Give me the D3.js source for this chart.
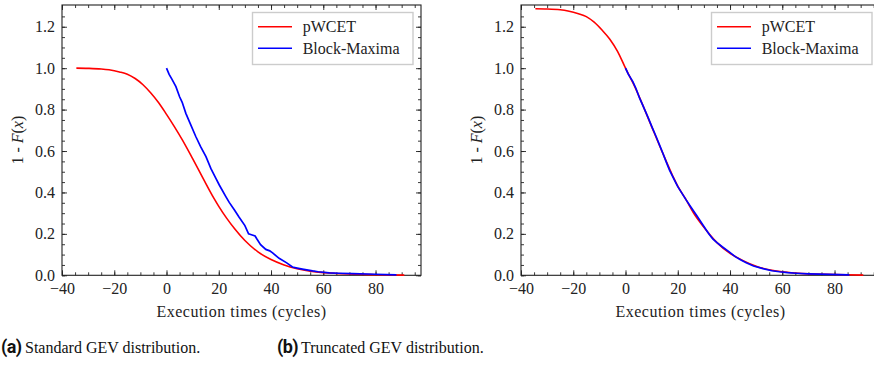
<!DOCTYPE html>
<html>
<head>
<meta charset="utf-8">
<script src="https://cdn.jsdelivr.net/npm/d3@7"></script>
<style>
  body { margin: 0; background: #fff; }
  svg { display: block; font-family: "Liberation Serif", "Times New Roman", serif; }
  svg text { font-family: "Liberation Serif", "Times New Roman", serif; }
  svg text.tag { font-family: Roboto, "Open Sans", sans-serif; font-weight: bold; }
</style>
</head>
<body>
<svg id="chart" width="874" height="371"></svg>
<script>
// values
const xTicks = [-40, -20, 0, 20, 40, 60, 80];
const yTicks = [0, 0.2, 0.4, 0.6, 0.8, 1.0, 1.2];

// (a) standard GEV
const stdRedX = [-34.5, -30, -25, -22, -18, -15, -12, -9, -6, -3, 0, 3, 6, 10, 14, 18, 20, 23, 26, 30, 35, 40, 45, 50, 55, 60, 65, 70, 80, 91];
const stdRedY = [1.000, 0.999, 0.996, 0.992, 0.982, 0.971, 0.950, 0.920, 0.880, 0.833, 0.777, 0.718, 0.655, 0.563, 0.468, 0.375, 0.333, 0.276, 0.226, 0.168, 0.113, 0.076, 0.050, 0.032, 0.020, 0.013, 0.009, 0.006, 0.003, 0.001];
const stdBlueX = [0, 1, 2, 3.6, 5, 6, 7.4, 9, 11.2, 13, 15.1, 17, 18.9, 20.2, 22.7, 24, 26, 27.8, 30, 31.4, 32.5, 33.9, 34.6, 36, 38, 39.5, 40.6, 43.1, 46, 48.2, 50, 52, 55.9, 58, 62.3, 66, 71.2, 80, 88];
const stdBlueY = [1.000, 0.970, 0.948, 0.911, 0.862, 0.835, 0.782, 0.735, 0.670, 0.622, 0.573, 0.515, 0.468, 0.436, 0.380, 0.352, 0.315, 0.280, 0.240, 0.200, 0.196, 0.190, 0.175, 0.148, 0.125, 0.118, 0.108, 0.082, 0.060, 0.040, 0.035, 0.030, 0.021, 0.017, 0.012, 0.010, 0.008, 0.005, 0.002];

// (b) truncated GEV
const truRedX = [-34.5, -30, -25, -22, -18, -15, -12, -9, -6, -3, 0, 3, 6, 10, 14, 18, 20, 23, 26, 30, 35, 40, 45, 50, 55, 60, 65, 70, 80, 91];
const truRedY = [1.287, 1.286, 1.282, 1.276, 1.263, 1.249, 1.222, 1.184, 1.140, 1.080, 1.000, 0.925, 0.840, 0.718, 0.597, 0.482, 0.430, 0.369, 0.302, 0.232, 0.158, 0.106, 0.071, 0.044, 0.027, 0.017, 0.011, 0.007, 0.004, 0.001];
const truBlueX = [0, 1, 2.8, 4, 5.4, 7, 8.5, 10, 11.7, 13, 14.3, 15.5, 16.8, 18.4, 20, 21.5, 23.2, 25, 27.1, 29, 30.9, 32, 33.4, 35, 37, 39.8, 42, 44, 46.2, 49, 52.6, 56, 58.9, 62, 65.3, 70, 78, 85.7];
const truBlueY = [1.000, 0.972, 0.935, 0.902, 0.855, 0.810, 0.766, 0.720, 0.670, 0.630, 0.589, 0.550, 0.509, 0.468, 0.428, 0.398, 0.364, 0.330, 0.291, 0.255, 0.219, 0.198, 0.176, 0.158, 0.138, 0.112, 0.090, 0.075, 0.061, 0.045, 0.032, 0.022, 0.017, 0.013, 0.010, 0.007, 0.004, 0.002];

const seriesNames = ["pWCET", "Block-Maxima"];
const seriesColors = ["#ff0000", "#0000ff"];

const svg = d3.select("#chart");
svg.append("rect").attr("width", 874).attr("height", 371).attr("fill", "#fff");

const pw = 359, yTop = 5, yBottom = 275.3;
const x = d3.scaleLinear().domain([-40, 97.4]).range([0, pw]);
const y = d3.scaleLinear().domain([0, 1.305]).range([yBottom, yTop]);

const xMinor = d3.range(-40, 97, 5);
const yMinor = d3.range(0, 1.30, 0.05);

function styleAxis(g) {
  g.select(".domain").remove();
  g.attr("font-family", null).attr("font-size", null);
  g.selectAll("line").attr("stroke", "#222").attr("stroke-width", 0.9);
  g.selectAll("text")
    .style("font-size", "16px")
    .attr("fill", "#222");
}

function drawPanel(left, redX, redY, blueX, blueY) {
  const g = svg.append("g").attr("transform", `translate(${left},0)`);
  const fmtX = d => d < 0 ? "\u2212" + Math.abs(d) : d;

  // minor ticks
  g.append("g").attr("transform", `translate(0,${yBottom})`)
    .call(d3.axisBottom(x).tickValues(xMinor).tickSize(-3).tickFormat("")).call(styleAxis);
  g.append("g").attr("transform", `translate(0,${yTop})`)
    .call(d3.axisTop(x).tickValues(xMinor).tickSize(-3).tickFormat("")).call(styleAxis);
  g.append("g")
    .call(d3.axisLeft(y).tickValues(yMinor).tickSize(-3).tickFormat("")).call(styleAxis);
  g.append("g").attr("transform", `translate(${pw},0)`)
    .call(d3.axisRight(y).tickValues(yMinor).tickSize(-3).tickFormat("")).call(styleAxis);

  // major ticks
  g.append("g").attr("transform", `translate(0,${yBottom})`)
    .call(d3.axisBottom(x).tickValues(xTicks).tickSize(-5).tickPadding(7).tickFormat(fmtX)).call(styleAxis);
  g.append("g").attr("transform", `translate(0,${yTop})`)
    .call(d3.axisTop(x).tickValues(xTicks).tickSize(-5).tickFormat("")).call(styleAxis);
  g.append("g")
    .call(d3.axisLeft(y).tickValues(yTicks).tickSize(-5).tickPadding(7).tickFormat(d3.format(".1f"))).call(styleAxis);
  g.append("g").attr("transform", `translate(${pw},0)`)
    .call(d3.axisRight(y).tickValues(yTicks).tickSize(-5).tickFormat("")).call(styleAxis);

  g.append("rect")
    .attr("x", 0).attr("y", yTop)
    .attr("width", pw).attr("height", yBottom - yTop)
    .attr("fill", "none").attr("stroke", "#222").attr("stroke-width", 1.1);

  const smooth = d3.line().curve(d3.curveMonotoneX).x(d => x(d[0])).y(d => y(d[1]));
  const jagged = d3.line().x(d => x(d[0])).y(d => y(d[1]));
  g.append("path")
    .datum(d3.zip(redX, redY))
    .attr("d", smooth)
    .attr("fill", "none").attr("stroke", seriesColors[0]).attr("stroke-width", 1.6);
  g.append("path")
    .datum(d3.zip(blueX, blueY))
    .attr("d", jagged)
    .attr("fill", "none").attr("stroke", seriesColors[1]).attr("stroke-width", 1.7);

  // legend
  const lg = g.append("g").attr("transform", "translate(190.5,12.5)");
  lg.append("rect").attr("width", 160.5).attr("height", 52)
    .attr("fill", "#fff").attr("fill-opacity", 0.8)
    .attr("stroke", "#cccccc").attr("stroke-width", 1.4);
  seriesNames.forEach((name, i) => {
    const ly = 14.2 + i * 21.6;
    lg.append("line").attr("x1", 5.5).attr("x2", 39.5).attr("y1", ly).attr("y2", ly)
      .attr("stroke", seriesColors[i]).attr("stroke-width", 1.6);
    lg.append("text")
      .attr("x", 50.2).attr("y", ly + 5.5)
      .style("font-size", "16px").attr("fill", "#222")
      .text(name);
  });

  // axis labels
  g.append("text")
    .attr("x", pw / 2).attr("y", 316.5)
    .attr("text-anchor", "middle")
    .style("font-size", "16px").style("letter-spacing", "0.5px").attr("fill", "#222")
    .text("Execution times (cycles)");

  const yl = g.append("text")
    .attr("transform", `translate(-39,${(yTop + yBottom) / 2}) rotate(-90)`)
    .attr("text-anchor", "middle")
    .style("font-size", "16px").attr("fill", "#222");
  yl.append("tspan").text("1 - ");
  yl.append("tspan").attr("font-style", "italic").text("F");
  yl.append("tspan").text("(");
  yl.append("tspan").attr("font-style", "italic").text("x");
  yl.append("tspan").text(")");
}

drawPanel(62, stdRedX, stdRedY, stdBlueX, stdBlueY);
drawPanel(521, truRedX, truRedY, truBlueX, truBlueY);

// sub-captions
const captions = [
  { tag: "(a)", text: "Standard GEV distribution.", x: 1 },
  { tag: "(b)", text: "Truncated GEV distribution.", x: 277 }
];
captions.forEach(c => {
  svg.append("text").attr("class", "tag")
    .attr("x", c.x).attr("y", 353)
    .style("font-size", "18px").style("letter-spacing", "-0.6px").attr("fill", "#111")
    .text(c.tag);
  svg.append("text")
    .attr("x", c.x + 24).attr("y", 353)
    .style("font-size", "16px").attr("fill", "#111")
    .text(c.text);
});
</script>
</body>
</html>
